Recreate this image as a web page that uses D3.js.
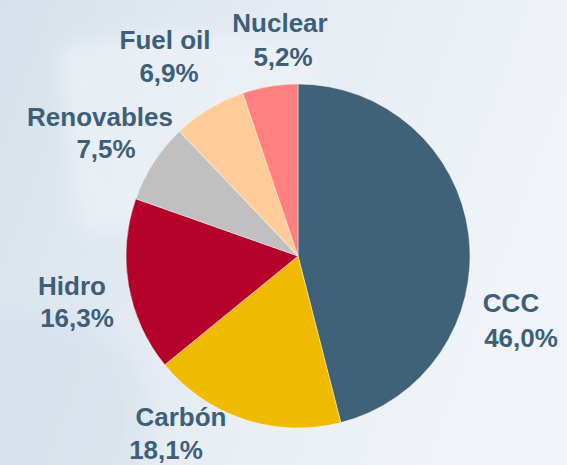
<!DOCTYPE html>
<html>
<head>
<meta charset="utf-8">
<script src="https://cdn.jsdelivr.net/npm/d3@7"></script>
<style>
  html, body { margin: 0; padding: 0; background: #e6ecf2; }
  svg { display: block; }
</style>
</head>
<body>
<svg id="chart" width="567" height="465"></svg>
<script>
// Generation mix by technology
const categories = ["CCC", "Carbón", "Hidro", "Renovables", "Fuel oil", "Nuclear"];
const shares = [46.0, 18.1, 16.3, 7.5, 6.9, 5.2];
const percentLabels = ["46,0%", "18,1%", "16,3%", "7,5%", "6,9%", "5,2%"];
const sliceColors = ["#406279", "#efba00", "#b5002a", "#c0c0c0", "#ffcc99", "#ff8080"];

const W = 567, H = 465;
const cx = 298, cy = 256, radius = 172;
const textColor = "#3e5f79";

const svg = d3.select("#chart");
const defs = svg.append("defs");

// soft bluish backdrop, lighter towards the right
const bg = defs.append("linearGradient").attr("id", "bg")
  .attr("x1", "0").attr("y1", "0").attr("x2", "1").attr("y2", "0.3");
bg.append("stop").attr("offset", "0").attr("stop-color", "#d7e1eb");
bg.append("stop").attr("offset", "0.45").attr("stop-color", "#e4ebf2");
bg.append("stop").attr("offset", "1").attr("stop-color", "#f0f4f8");
svg.append("rect").attr("width", W).attr("height", H).attr("fill", "url(#bg)");

// faint washed-out building silhouette in the upper left
const blur = defs.append("filter").attr("id", "haze")
  .attr("filterUnits", "userSpaceOnUse")
  .attr("x", -50).attr("y", -50).attr("width", W + 100).attr("height", H + 100);
blur.append("feGaussianBlur").attr("stdDeviation", 10);
const haze = svg.append("g").attr("filter", "url(#haze)").attr("opacity", 0.55);
haze.append("path")
  .attr("d", "M60,50 C130,30 220,25 320,60 L320,230 L80,230 Z")
  .attr("fill", "#f4f7fa");
const streaks = d3.range(80, 320, 10);
haze.selectAll("rect.streak").data(streaks).join("rect")
  .attr("class", "streak")
  .attr("x", d => d).attr("y", d => 40 + (d - 80) * 0.1)
  .attr("width", 4).attr("height", 180)
  .attr("fill", (d, i) => i % 2 ? "#d3dde7" : "#fbfcfd")
  .attr("opacity", 0.6);
svg.append("ellipse").attr("cx", 30).attr("cy", 420).attr("rx", 120).attr("ry", 110)
  .attr("fill", "#d4deea").attr("opacity", 0.5).attr("filter", "url(#haze)");

// pie slices, clockwise from 12 o'clock in data order
const pie = d3.pie().sort(null).value(d => d.value);
const arc = d3.arc().innerRadius(0).outerRadius(radius);
const data = categories.map((c, i) => ({ name: c, value: shares[i], label: percentLabels[i], color: sliceColors[i] }));
const arcs = pie(data);

const g = svg.append("g").attr("transform", `translate(${cx},${cy})`);
g.selectAll("path.slice").data(arcs).join("path")
  .attr("class", "slice")
  .attr("d", arc)
  .attr("fill", d => d.data.color)
  .attr("stroke", "#ffffff")
  .attr("stroke-width", 0.6)
  .attr("stroke-opacity", 0.7);

// label placement relative to the pie centre: [line1 dx, line1 dy, line2 dx, line2 dy]
const labelOffsets = {
  "CCC":        [213, 56, 223, 91],
  "Carbón":     [-117, 170, -132, 203],
  "Hidro":      [-226, 39, -221, 71],
  "Renovables": [-198, -130, -192, -98],
  "Fuel oil":   [-133, -207, -129, -174],
  "Nuclear":    [-18, -224, -15, -190]
};

const labels = g.selectAll("g.label").data(arcs).join("g").attr("class", "label");
labels.append("text")
  .attr("x", d => labelOffsets[d.data.name][0])
  .attr("y", d => labelOffsets[d.data.name][1])
  .text(d => d.data.name);
labels.append("text")
  .attr("x", d => labelOffsets[d.data.name][2])
  .attr("y", d => labelOffsets[d.data.name][3])
  .text(d => d.data.label);
labels.selectAll("text")
  .attr("text-anchor", "middle")
  .attr("font-family", "'Liberation Sans', Arial, sans-serif")
  .attr("font-weight", "bold")
  .attr("font-size", 26)
  .attr("fill", textColor);
</script>
</body>
</html>
